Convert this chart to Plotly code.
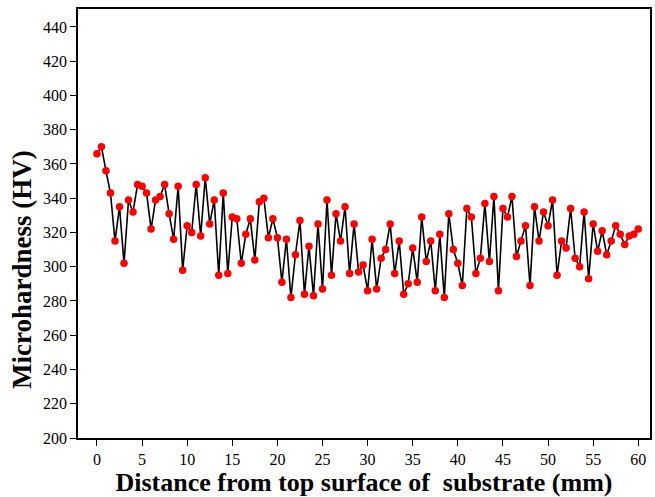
import plotly.graph_objects as go

distance_mm = [i * 0.5 for i in range(121)]
hardness_hv = [
    366, 370, 356, 343, 315, 335, 302, 339, 332, 348,
    347, 343, 322, 339, 341, 348, 331, 316, 347, 298,
    324, 320, 348, 318, 352, 325, 339, 295, 343, 296,
    329, 328, 302, 319, 328, 304, 338, 340, 317, 328,
    317, 291, 316, 282, 307, 327, 284, 312, 283, 325,
    287, 339, 295, 331, 315, 335, 296, 325, 297, 301,
    286,
    316, 287, 305, 310, 325, 296, 315, 284, 290, 311,
    291, 329, 303, 315, 286, 319, 282, 331, 310, 302,
    289, 334, 329, 296, 305, 337, 303, 341, 286, 334,
    329,
    341, 306, 315, 324, 289, 335, 315, 332, 324, 339,
    295, 315, 311, 334, 305, 300, 332, 293, 325, 309,
    321, 307, 315, 324, 319, 313, 318, 319, 322,
]
x_ticks = [0, 5, 10, 15, 20, 25, 30, 35, 40, 45, 50, 55, 60]
y_ticks = [200, 220, 240, 260, 280, 300, 320, 340, 360, 380, 400, 420, 440]
x_title = "Distance from top surface of &nbsp;substrate (mm)"
y_title = "Microhardness (HV)"

fig = go.Figure()
fig.add_trace(go.Scatter(
    x=distance_mm, y=hardness_hv, mode="lines+markers",
    line=dict(color="black", width=1.6),
    marker=dict(color="#ff0000", size=7.5, line=dict(width=0)),
    showlegend=False,
))

font_family = "Liberation Serif, Times New Roman, serif"
fig.update_layout(
    width=655, height=497,
    margin=dict(l=78, r=3, t=9, b=59),
    paper_bgcolor="white", plot_bgcolor="white",
    font=dict(family=font_family, color="black"),
)
fig.update_xaxes(
    range=[-2.1, 61.3], tickvals=x_ticks, ticktext=[str(v) for v in x_ticks],
    ticks="outside", ticklen=6, tickwidth=1.2, tickcolor="black",
    showline=True, linecolor="black", linewidth=1.5, mirror=True,
    showgrid=False, zeroline=False,
    tickfont=dict(size=16, family=font_family, color="black"),
    title=dict(text="<b>" + x_title + "</b>",
               font=dict(size=26, family=font_family, color="black"), standoff=5),
)
fig.update_yaxes(
    range=[200, 450.5], tickvals=y_ticks, ticktext=[str(v) for v in y_ticks],
    ticks="outside", ticklen=6, tickwidth=1.2, tickcolor="black",
    showline=True, linecolor="black", linewidth=1.5, mirror=True,
    showgrid=False, zeroline=False,
    tickfont=dict(size=16, family=font_family, color="black"),
)
fig.add_annotation(
    text="<b>" + y_title + "</b>", textangle=-90,
    xref="paper", yref="paper", x=-0.098, y=0.394,
    xanchor="center", yanchor="middle", showarrow=False,
    font=dict(size=27, family=font_family, color="black"),
)
fig.write_html("out.html")
